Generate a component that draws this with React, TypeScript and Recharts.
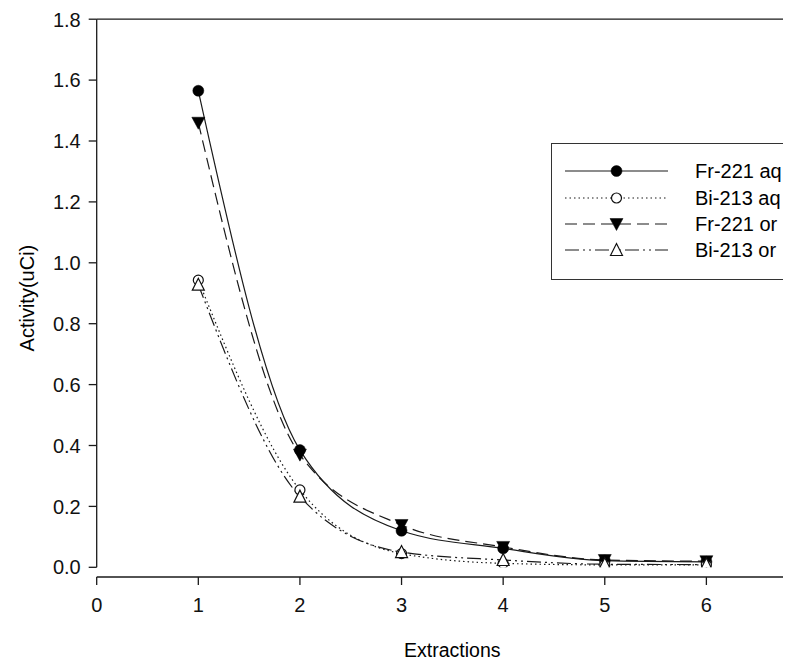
import React from 'react';
import { LineChart, Line, XAxis, YAxis, ReferenceLine, Legend, Label } from 'recharts';

const extractions = [1, 2, 3, 4, 5, 6];
const fr221Aq = [1.565, 0.385, 0.12, 0.062, 0.022, 0.018];
const bi213Aq = [0.943, 0.254, 0.045, 0.013, 0.008, 0.008];
const fr221Or = [1.46, 0.37, 0.139, 0.067, 0.024, 0.02];
const bi213Or = [0.928, 0.232, 0.05, 0.024, 0.01, 0.009];
const xTicks = [0, 1, 2, 3, 4, 5, 6];
const yTicks = [0, 0.2, 0.4, 0.6, 0.8, 1.0, 1.2, 1.4, 1.6, 1.8];
const seriesNames = ['Fr-221 aq', 'Bi-213 aq', 'Fr-221 or', 'Bi-213 or'];

const data = extractions.map((x, i) => ({
  x,
  frAq: fr221Aq[i],
  biAq: bi213Aq[i],
  frOr: fr221Or[i],
  biOr: bi213Or[i],
}));

const FONT = '"Liberation Sans", Arial, sans-serif';
const INK = '#1a1a1a';

type Kind = 'filledCircle' | 'openCircle' | 'filledTriDown' | 'openTriUp';

const Marker = ({ cx, cy, kind }: { cx: number; cy: number; kind: Kind }) => {
  if (cx == null || cy == null) return null;
  switch (kind) {
    case 'filledCircle':
      return <circle cx={cx} cy={cy} r={5.5} fill="#000" stroke="#000" strokeWidth={0.5} />;
    case 'openCircle':
      return <circle cx={cx} cy={cy} r={5} fill="#fff" stroke="#111" strokeWidth={1.2} />;
    case 'filledTriDown':
      return (
        <polygon
          points={`${cx - 6.5},${cy - 5.5} ${cx + 6.5},${cy - 5.5} ${cx},${cy + 6.5}`}
          fill="#000"
          stroke="#000"
          strokeWidth={0.5}
        />
      );
    case 'openTriUp':
      return (
        <polygon
          points={`${cx - 6},${cy + 5.5} ${cx + 6},${cy + 5.5} ${cx},${cy - 6.5}`}
          fill="#fff"
          stroke="#111"
          strokeWidth={1.2}
        />
      );
  }
  return null;
};

const seriesStyles: { key: string; kind: Kind; dash?: string }[] = [
  { key: 'frAq', kind: 'filledCircle' },
  { key: 'biAq', kind: 'openCircle', dash: '1.5 3' },
  { key: 'frOr', kind: 'filledTriDown', dash: '12 6' },
  { key: 'biOr', kind: 'openTriUp', dash: '14 4 2 4 2 4' },
];

const LegendBox = () => (
  <div
    style={{
      position: 'relative',
      width: 300,
      height: 137,
      border: '1.5px solid #333',
      boxSizing: 'border-box',
      background: '#fff',
      fontFamily: FONT,
    }}
  >
    {seriesStyles.map((s, i) => {
      const cy = 27 + i * 26.3;
      return (
        <div key={s.key}>
          <svg
            width={130}
            height={20}
            style={{ position: 'absolute', left: 0, top: cy - 10, overflow: 'visible' }}
          >
            <line
              x1={13}
              x2={116}
              y1={10}
              y2={10}
              stroke={INK}
              strokeWidth={1.2}
              strokeDasharray={s.dash}
            />
            <Marker cx={64.5} cy={10} kind={s.kind} />
          </svg>
          <div
            style={{
              position: 'absolute',
              left: 143,
              top: cy - 12,
              height: 24,
              lineHeight: '24px',
              fontSize: 20,
              color: '#000',
              whiteSpace: 'nowrap',
            }}
          >
            {seriesNames[i]}
          </div>
        </div>
      );
    })}
  </div>
);

const YLabel = (props: any) => {
  const vb = props.viewBox || {};
  const cx = vb.x + 19;
  const cy = vb.y + vb.height / 2;
  return (
    <text
      x={cx}
      y={cy}
      transform={`rotate(-90, ${cx}, ${cy})`}
      textAnchor="middle"
      dominantBaseline="central"
      fontFamily={FONT}
      fontSize={20}
      fill="#000"
    >
      Activity(uCi)
    </text>
  );
};

export default function App() {
  return (
    <div style={{ width: 783, height: 655, overflow: 'hidden', position: 'relative' }}>
      <LineChart
        width={830}
        height={655}
        data={data}
        margin={{ top: 11.2, right: 30, bottom: 0, left: 0 }}
      >
        <XAxis
          dataKey="x"
          type="number"
          domain={[0, 7]}
          ticks={xTicks}
          allowDataOverflow
          height={86}
          tickSize={8}
          tickMargin={13}
          stroke={INK}
          axisLine={{ stroke: INK, strokeWidth: 1.3 }}
          tickLine={{ stroke: INK, strokeWidth: 1.3 }}
          tick={{ fill: '#111', fontSize: 20, fontFamily: FONT }}
        >
          <Label
            value="Extractions"
            position="insideBottom"
            offset={6}
            style={{ fontFamily: FONT, fontSize: 19.5, fill: '#000' }}
          />
        </XAxis>
        <YAxis
          type="number"
          domain={[0, 1.8]}
          ticks={yTicks}
          allowDataOverflow
          width={88.7}
          padding={{ top: 0, bottom: 9.7 }}
          tickSize={8}
          tickMargin={8}
          axisLine={false}
          tickLine={{ stroke: INK, strokeWidth: 1.3 }}
          tickFormatter={(v: number) => v.toFixed(1)}
          tick={{ fill: '#111', fontSize: 20, fontFamily: FONT }}
        >
          <Label content={YLabel} />
        </YAxis>
        <ReferenceLine
          segment={[
            { x: 0, y: 0 },
            { x: 0, y: 1.8 },
          ]}
          stroke={INK}
          strokeWidth={1.3}
          ifOverflow="visible"
        />
        <ReferenceLine y={1.8} stroke={INK} strokeWidth={1.3} ifOverflow="visible" />
        {seriesStyles.map((s, i) => (
          <Line
            key={s.key}
            name={seriesNames[i]}
            dataKey={s.key}
            type="monotone"
            stroke={INK}
            strokeWidth={1.2}
            strokeDasharray={s.dash}
            isAnimationActive={false}
            dot={(p: any) => <Marker key={`${s.key}-${p.index}`} cx={p.cx} cy={p.cy} kind={s.kind} />}
            activeDot={false}
          />
        ))}
        <Legend
          layout="vertical"
          align="center"
          verticalAlign="middle"
          content={() => <LegendBox />}
          wrapperStyle={{ position: 'absolute', left: 543, top: 135.3, width: 300, height: 137 }}
        />
      </LineChart>
    </div>
  );
}
